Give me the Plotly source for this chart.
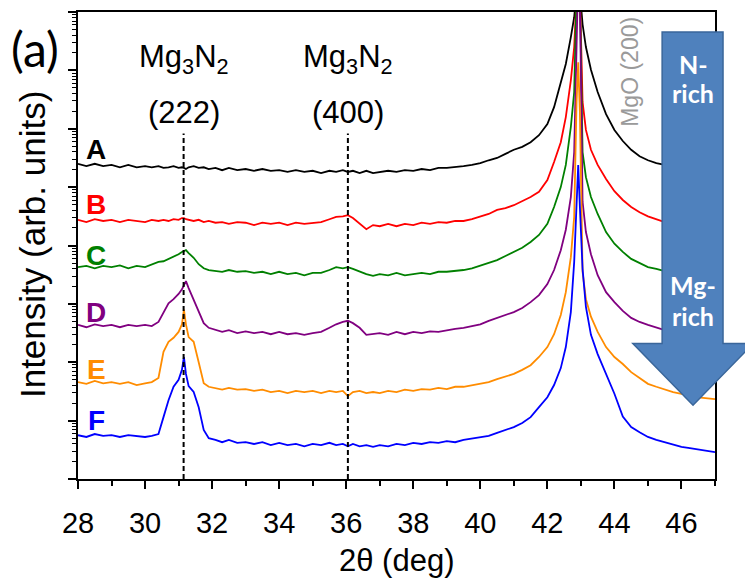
import numpy as np
import plotly.graph_objects as go

# 2-theta grid (deg)
two_theta = [28.0, 28.25, 28.5, 28.75, 29.0, 29.25, 29.5, 29.75, 30.0,
             30.2, 30.4, 30.55, 30.7, 30.85,
             31.0, 31.1, 31.16, 31.22, 31.3, 31.45, 31.6, 31.75, 31.9,
             32.1, 32.3,
             32.5, 32.75, 33.0, 33.25, 33.5, 33.75, 34.0, 34.25, 34.5, 34.75, 35.0, 35.25,
             35.5, 35.7, 35.9, 36.05, 36.2, 36.4, 36.6, 36.8,
             37.0, 37.25, 37.5, 37.75, 38.0, 38.25, 38.5, 38.75, 39.0, 39.25, 39.5, 39.75,
             40.0, 40.25, 40.5, 40.75, 41.0, 41.25, 41.5, 41.75, 42.0,
             42.2, 42.4, 42.55, 42.7, 42.8, 42.87, 42.92, 42.97, 43.05, 43.15, 43.3,
             43.5, 43.75, 44.0, 44.25, 44.5, 44.75, 45.0, 45.25, 45.5, 45.75, 46.0, 46.25, 46.5, 46.75, 47.0]

# log10 intensity (arb. units, offset for display)
log_A = [5.40, 5.36, 5.40, 5.36, 5.38, 5.34, 5.38, 5.34, 5.36,
         5.34, 5.36, 5.33, 5.34, 5.36,
         5.33, 5.34, 5.33, 5.31, 5.34, 5.36, 5.33, 5.34, 5.31,
         5.33, 5.29,
         5.33, 5.29, 5.31, 5.28, 5.31, 5.28, 5.29, 5.26, 5.29, 5.26, 5.28, 5.24,
         5.28, 5.26, 5.29, 5.26, 5.28, 5.24, 5.28, 5.24,
         5.26, 5.28, 5.26, 5.29, 5.28, 5.31, 5.29, 5.33, 5.33, 5.34, 5.36, 5.38,
         5.41, 5.46, 5.50, 5.57, 5.64, 5.69, 5.77, 5.89, 6.08,
         6.37, 6.77, 7.11, 7.57, 7.91, 8.34, 8.86, 8.34, 7.79, 7.40, 7.01,
         6.63, 6.25, 5.98, 5.79, 5.64, 5.53, 5.46, 5.41, 5.38, 5.34, 5.33, 5.31, 5.29, 5.28, 5.26]

log_B = [4.44, 4.40, 4.45, 4.42, 4.44, 4.40, 4.44, 4.42, 4.40,
         4.44, 4.42, 4.44, 4.42, 4.45,
         4.44, 4.47, 4.47, 4.45, 4.44, 4.42, 4.44, 4.40, 4.42,
         4.39, 4.40,
         4.37, 4.40, 4.39, 4.35, 4.39, 4.37, 4.39, 4.35, 4.39, 4.37, 4.39, 4.40,
         4.45, 4.49, 4.50, 4.52, 4.47, 4.37, 4.28, 4.35,
         4.33, 4.37, 4.33, 4.37, 4.35, 4.39, 4.37, 4.40, 4.39, 4.42, 4.42, 4.45,
         4.49, 4.54, 4.61, 4.64, 4.69, 4.76, 4.83, 4.92, 5.12,
         5.43, 5.77, 6.20, 6.83, 7.40, 8.34, 8.86, 8.34, 6.46, 5.98, 5.64,
         5.38, 5.14, 4.93, 4.78, 4.66, 4.57, 4.50, 4.45, 4.40, 4.39, 4.37, 4.35, 4.33, 4.33, 4.32]

log_C = [3.63, 3.65, 3.61, 3.65, 3.63, 3.66, 3.61, 3.65, 3.63,
         3.68, 3.72, 3.73, 3.77, 3.80,
         3.85, 3.89, 3.91, 3.92, 3.87, 3.79, 3.68, 3.61, 3.58,
         3.56, 3.55,
         3.58, 3.55, 3.56, 3.53, 3.55, 3.51, 3.55, 3.51, 3.53, 3.49, 3.53, 3.53,
         3.58, 3.63, 3.61, 3.63, 3.60, 3.55, 3.51, 3.48,
         3.51, 3.49, 3.53, 3.49, 3.51, 3.53, 3.51, 3.55, 3.55, 3.56, 3.58, 3.61,
         3.66, 3.70, 3.75, 3.82, 3.89, 3.96, 4.06, 4.18, 4.37,
         4.66, 5.00, 5.38, 6.03, 6.63, 8.34, 8.86, 8.34, 5.60, 5.17, 4.83,
         4.54, 4.23, 4.03, 3.89, 3.77, 3.70, 3.63, 3.60, 3.56, 3.55, 3.53, 3.51, 3.49, 3.49, 3.48]

log_D = [2.64, 2.60, 2.65, 2.62, 2.64, 2.60, 2.64, 2.62, 2.64,
         2.62, 2.69, 2.86, 3.01, 3.08,
         3.17, 3.25, 3.33, 3.39, 3.27, 3.08, 2.86, 2.67, 2.59,
         2.55, 2.52,
         2.55, 2.50, 2.53, 2.50, 2.52, 2.48, 2.52, 2.48, 2.50, 2.47, 2.50, 2.52,
         2.59, 2.65, 2.69, 2.71, 2.67, 2.59, 2.47, 2.48,
         2.50, 2.47, 2.52, 2.48, 2.52, 2.50, 2.53, 2.52, 2.55, 2.57, 2.59, 2.62,
         2.65, 2.71, 2.76, 2.81, 2.86, 2.93, 3.03, 3.15, 3.34,
         3.58, 3.92, 4.27, 4.83, 5.60, 8.26, 8.68, 8.26, 4.75, 4.23, 3.85,
         3.49, 3.20, 3.03, 2.88, 2.76, 2.69, 2.64, 2.59, 2.55, 2.53, 2.52, 2.50, 2.48, 2.48, 2.47]

log_E = [1.66, 1.63, 1.68, 1.64, 1.66, 1.63, 1.66, 1.61, 1.64,
         1.66, 1.73, 2.18, 2.35, 2.42,
         2.52, 2.65, 2.90, 2.65, 2.43, 2.35, 2.00, 1.64, 1.58,
         1.56, 1.53,
         1.56, 1.53, 1.54, 1.51, 1.53, 1.49, 1.51, 1.47, 1.51, 1.49, 1.51, 1.47,
         1.51, 1.49, 1.51, 1.42, 1.49, 1.51, 1.47, 1.49,
         1.47, 1.51, 1.49, 1.53, 1.51, 1.54, 1.53, 1.56, 1.54, 1.58, 1.58, 1.61,
         1.63, 1.66, 1.71, 1.75, 1.80, 1.87, 1.95, 2.09, 2.26,
         2.48, 2.81, 3.20, 3.80, 4.49, 6.46, 7.14, 6.29, 3.55, 3.08, 2.78,
         2.52, 2.26, 2.09, 1.97, 1.83, 1.73, 1.63, 1.58, 1.53, 1.49, 1.46, 1.44, 1.40, 1.39, 1.37]

log_F = [0.75, 0.72, 0.77, 0.74, 0.75, 0.72, 0.75, 0.74, 0.72,
         0.74, 0.77, 1.06, 1.35, 1.58,
         1.70, 1.87, 2.09, 1.80, 1.59, 1.49, 1.23, 0.84, 0.70,
         0.67, 0.63,
         0.67, 0.62, 0.63, 0.60, 0.63, 0.58, 0.62, 0.58, 0.60, 0.56, 0.60, 0.58,
         0.62, 0.58, 0.60, 0.56, 0.60, 0.56, 0.58, 0.55,
         0.58, 0.56, 0.60, 0.58, 0.62, 0.60, 0.63, 0.62, 0.65, 0.63, 0.67, 0.69,
         0.72, 0.74, 0.79, 0.84, 0.89, 0.96, 1.06, 1.23, 1.40,
         1.61, 1.90, 2.26, 2.86, 3.72, 4.74, 5.38, 4.66, 3.60, 2.95, 2.47,
         2.14, 1.80, 1.46, 1.07, 0.89, 0.80, 0.72, 0.67, 0.63, 0.58, 0.55, 0.53, 0.51, 0.48, 0.46]

sample_names = ["A", "B", "C", "D", "E", "F"]
sample_colors = ["#000000", "#FF0000", "#008000", "#800080", "#FF8C00", "#0000FF"]
series = [log_A, log_B, log_C, log_D, log_E, log_F]

x_ticks = [28, 30, 32, 34, 36, 38, 40, 42, 44, 46]
x_minor = [29, 31, 33, 35, 37, 39, 41, 43, 45, 47]
mg3n2_peaks = [31.15, 36.05]
mg3n2_hkl = ["(222)", "(400)"]

for s in series:
    assert len(s) == len(two_theta)

fig = go.Figure()
for name, col, s in zip(sample_names, sample_colors, series):
    fig.add_trace(go.Scatter(x=two_theta, y=10 ** np.array(s), mode="lines",
                             line=dict(color=col, width=1.8), name=name,
                             hoverinfo="skip"))

ARIAL = "Liberation Sans, Arial, sans-serif"
CAL = "Lato, Carlito, Calibri, sans-serif"

fig.update_layout(
    width=745, height=588,
    margin=dict(l=78, r=30, t=10, b=109),
    plot_bgcolor="white", paper_bgcolor="white",
    showlegend=False,
)
fig.update_xaxes(
    range=[28, 47], tickmode="array", tickvals=x_ticks,
    ticks="outside", ticklen=8, tickwidth=1.5, tickcolor="black",
    minor=dict(tickmode="array", tickvals=x_minor, ticks="outside", ticklen=5,
               tickwidth=1.5, tickcolor="black", showgrid=False),
    showline=True, linecolor="black", linewidth=1.5, mirror=True,
    showgrid=False, zeroline=False,
    ticklabelstandoff=9,
    tickfont=dict(family=ARIAL, size=29, color="black"),
)
major_y = [10 ** k for k in range(0, 9)]
minor_y = [m * 10 ** k for k in range(0, 8) for m in range(2, 10)]
fig.update_yaxes(
    type="log", range=[0, 8], tickmode="array", tickvals=major_y, showticklabels=False,
    ticks="outside", ticklen=8, tickwidth=1.5, tickcolor="black",
    minor=dict(tickmode="array", tickvals=minor_y, ticks="outside", ticklen=4,
               tickwidth=1.2, tickcolor="black", showgrid=False),
    showline=True, linecolor="black", linewidth=1.5, mirror=True,
    showgrid=False, zeroline=False,
)

# dashed reference lines for Mg3N2 reflections
for pk in mg3n2_peaks:
    fig.add_shape(type="line", xref="x", yref="paper", x0=pk, x1=pk, y0=0, y1=0.74,
                  line=dict(color="black", width=2, dash="5px,3px"))


def note(x, y, text, size, color="black", family=ARIAL, xref="paper", angle=0):
    return dict(x=x, y=y, xref=xref, yref="paper", text=text, showarrow=False,
                xanchor="center", yanchor="middle", textangle=angle,
                font=dict(family=family, size=size, color=color))


annotations = []
for pk, hkl in zip(mg3n2_peaks, mg3n2_hkl):
    annotations.append(note(pk, 0.90, "Mg<sub>3</sub>N<sub>2</sub>", 31, xref="x"))
    annotations.append(note(pk, 0.785, hkl, 31, xref="x"))

label_y = [0.706, 0.588, 0.478, 0.356, 0.235, 0.126]
for name, col, ly in zip(sample_names, sample_colors, label_y):
    annotations.append(note(28.55, ly, "<b>%s</b>" % name, 28, color=col, xref="x"))

annotations += [
    note(-0.0675, 0.921, "(a)", 48, family=CAL),
    note(-0.0722, 0.501, "Intensity (arb. units)", 35, angle=-90),
    note(0.5, -0.175, "2θ (deg)", 31),
    note(0.8666, 0.872, "MgO (200)", 23, color="#9a9a9a", angle=-90),
]

# composition arrow (N-rich -> Mg-rich)
fig.add_shape(type="path", xref="paper", yref="paper", layer="above",
              path="M 0.917,0.957 L 1.0126,0.957 L 1.0126,0.290 L 1.06,0.290 "
                   "L 0.9655,0.158 L 0.871,0.290 L 0.917,0.290 Z",
              fillcolor="#4F81BD", line=dict(color="#3A669A", width=1.5))
annotations += [
    note(0.9655, 0.889, "<b>N-</b>", 25, color="white", family=CAL),
    note(0.9655, 0.827, "<b>rich</b>", 25, color="white", family=CAL),
    note(0.9655, 0.416, "<b>Mg-</b>", 25, color="white", family=CAL),
    note(0.9655, 0.350, "<b>rich</b>", 25, color="white", family=CAL),
]
fig.update_layout(annotations=annotations)

fig.write_html("out.html", config={"displayModeBar": False},
               post_script="document.body.style.margin='0px';")
